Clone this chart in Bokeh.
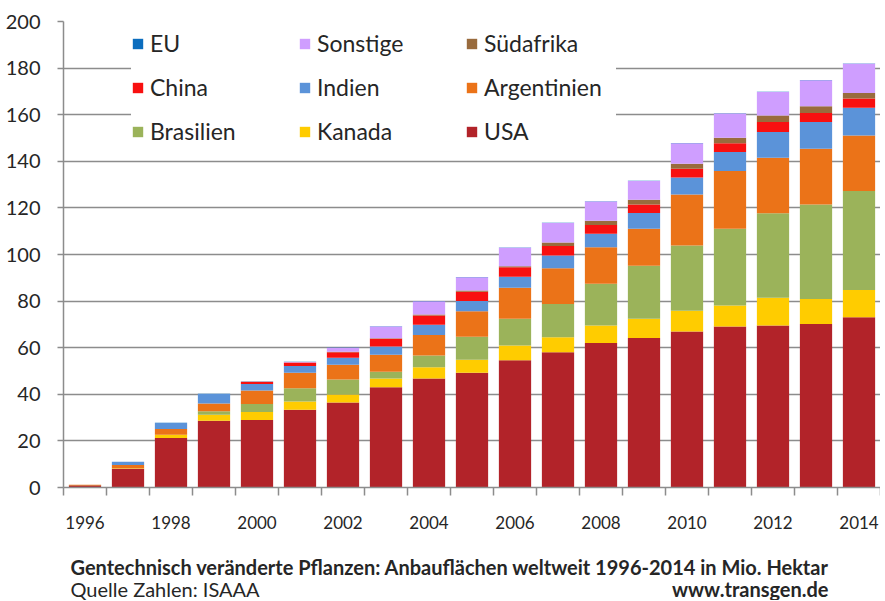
from bokeh.plotting import figure
from bokeh.layouts import column
from bokeh.models import ColumnDataSource, Legend, LegendItem, FixedTicker, Range1d
from bokeh.core.properties import value
from bokeh.embed import file_html
from bokeh.resources import INLINE

years = list(range(1996, 2015))
usa         = [1.0, 8.0, 21.2, 28.7, 29.0, 33.4, 36.5, 43.0, 46.8, 49.2, 54.6, 58.0, 62.0, 64.2, 67.0, 69.1, 69.5, 70.2, 73.1]
kanada      = [0.1, 0.3, 1.4, 2.5, 3.4, 3.5, 3.4, 3.8, 4.8, 5.6, 6.3, 6.5, 7.5, 8.2, 8.9, 9.0, 11.9, 10.7, 11.7]
brasilien   = [0.0, 0.0, 0.0, 1.5, 3.4, 5.7, 6.5, 2.9, 5.0, 9.9, 11.5, 14.3, 17.9, 22.8, 28.0, 32.9, 36.3, 40.6, 42.4]
argentinien = [0.1, 1.4, 2.5, 3.4, 5.8, 6.6, 6.3, 7.3, 8.9, 10.9, 13.3, 15.3, 15.7, 15.8, 21.9, 24.8, 23.8, 23.9, 23.9]
indien      = [0.0, 1.3, 2.6, 4.0, 2.8, 2.9, 3.0, 3.5, 4.3, 4.4, 4.8, 5.5, 5.8, 6.8, 7.2, 8.2, 11.1, 11.5, 11.9]
china       = [0.0, 0.0, 0.0, 0.0, 1.0, 1.5, 2.3, 3.3, 4.0, 4.0, 4.0, 4.0, 3.8, 3.7, 3.8, 3.8, 4.3, 3.8, 3.9]
suedafrika  = [0.0, 0.0, 0.0, 0.0, 0.0, 0.0, 0.3, 0.3, 0.4, 0.5, 0.5, 1.5, 1.8, 2.0, 2.2, 2.3, 2.8, 2.9, 2.4]
sonstige    = [0.0, 0.0, 0.0, 0.0, 0.0, 0.3, 1.7, 5.0, 5.7, 5.7, 7.9, 8.4, 8.3, 8.0, 8.8, 10.4, 10.0, 11.2, 12.6]
eu          = [0.0, 0.0, 0.1, 0.1, 0.1, 0.1, 0.1, 0.1, 0.1, 0.1, 0.1, 0.1, 0.1, 0.1, 0.1, 0.1, 0.1, 0.1, 0.1]

keys   = ["usa", "kanada", "brasilien", "argentinien", "indien", "china", "suedafrika", "sonstige", "eu"]
names  = ["USA", "Kanada", "Brasilien", "Argentinien", "Indien", "China", "Südafrika", "Sonstige", "EU"]
colors = ["#B22329", "#FFCC00", "#9BB35A", "#EB7318", "#5B93D9", "#F81010", "#996B3D", "#CF9EFF", "#0B6DBE"]
legend_order = ["EU", "Sonstige", "Südafrika", "China", "Indien", "Argentinien", "Brasilien", "Kanada", "USA"]

title_text = "Gentechnisch veränderte Pflanzen: Anbauflächen weltweit 1996-2014 in Mio. Hektar"
source_text = "Quelle Zahlen: ISAAA"
site_text = "www.transgen.de"

src = ColumnDataSource(dict(year=years, usa=usa, kanada=kanada, brasilien=brasilien,
                            argentinien=argentinien, indien=indien, china=china,
                            suedafrika=suedafrika, sonstige=sonstige, eu=eu))

FONT = "Lato"
GRID = "#8c8c8c"
TXT = "#262626"

p = figure(width=880, height=540, output_backend="svg", toolbar_location=None,
           x_range=Range1d(1995.5, 2014.5), y_range=Range1d(0, 200),
           min_border_left=63, min_border_right=0, min_border_top=21, min_border_bottom=53)
p.outline_line_color = None
p.background_fill_color = "white"

rs = p.vbar_stack(keys, x="year", width=0.75, color=colors, line_color=None, source=src)
rmap = dict(zip(names, rs))

# axes
p.xaxis.ticker = FixedTicker(ticks=years[::2], minor_ticks=[y - 0.5 for y in years] + [years[-1] + 0.5])
p.xaxis.major_tick_out = 0
p.xaxis.major_tick_in = 0
p.xaxis.minor_tick_out = 8
p.xaxis.minor_tick_in = 0
p.xaxis.minor_tick_line_color = GRID
p.xaxis.minor_tick_line_width = 1.5
p.xaxis.axis_line_color = GRID
p.xaxis.axis_line_width = 1.5
p.xaxis.major_label_standoff = 20
p.xaxis.major_label_text_font = FONT
p.xaxis.major_label_text_font_size = "17px"
p.xaxis.major_label_text_color = TXT

p.yaxis.ticker = FixedTicker(ticks=list(range(0, 201, 20)))
p.yaxis.major_tick_out = 6
p.yaxis.major_tick_in = 0
p.yaxis.minor_tick_out = 0
p.yaxis.minor_tick_in = 0
p.yaxis.major_tick_line_color = GRID
p.yaxis.major_tick_line_width = 1.5
p.yaxis.axis_line_color = GRID
p.yaxis.axis_line_width = 1.5
p.yaxis.major_label_standoff = 17
p.yaxis.major_label_text_font = FONT
p.yaxis.major_label_text_font_size = "20px"
p.yaxis.major_label_text_color = TXT

p.xgrid.visible = False
p.ygrid.grid_line_color = GRID
p.ygrid.grid_line_width = 1.5

legend = Legend(items=[LegendItem(label=n, renderers=[rmap[n]]) for n in legend_order],
                orientation="horizontal", ncols=3, location=(68, 342),
                glyph_width=13, glyph_height=13, label_standoff=6, label_width=132,
                spacing=16, padding=14, margin=0,
                label_text_font=FONT, label_text_font_size="23px", label_text_color=TXT,
                background_fill_color="white", background_fill_alpha=1.0,
                border_line_color=None)
p.add_layout(legend)

# footer with the caption texts (frame aligned with the chart frame: x = page pixels)
f = figure(width=880, height=60, output_backend="svg", toolbar_location=None,
           x_range=Range1d(63, 880), y_range=Range1d(0, 60),
           x_axis_location=None, y_axis_location=None, min_border=0)
f.outline_line_color = None
f.xgrid.visible = False
f.ygrid.visible = False
f.text(x=[70], y=[34], text=[title_text], text_font=value(FONT), text_font_size="20px",
       text_font_style="bold", text_color=TXT, text_baseline="middle", text_align="left")
f.text(x=[70], y=[12], text=[source_text], text_font=value(FONT), text_font_size="20px",
       text_color=TXT, text_baseline="middle", text_align="left")
f.text(x=[828], y=[12], text=[site_text], text_font=value(FONT), text_font_size="20px",
       text_font_style="bold", text_color=TXT, text_baseline="middle", text_align="right")

layout = column(p, f, spacing=0)
open("out.html", "w").write(file_html(layout, INLINE))
